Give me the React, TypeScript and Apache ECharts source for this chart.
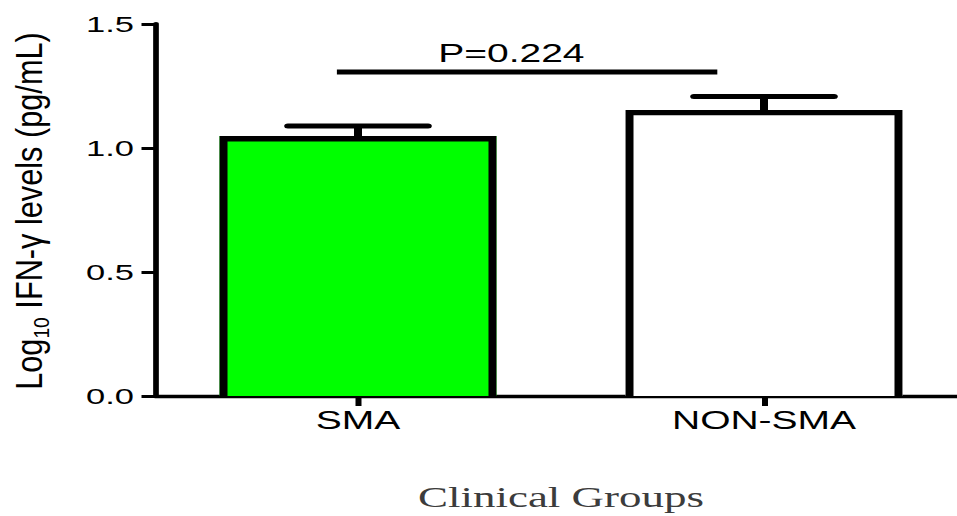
import React, { useEffect, useRef } from "react";
import * as echarts from "echarts";

// ---- data ----
const categories = ["SMA", "NON-SMA"];
const means = [1.048, 1.153];
const sems = [0.041, 0.055];
const barColors = ["#00ff00", "#ffffff"];
const yMin = 0;
const yMax = 1.5;
const yInterval = 0.5;
const pValueLabel = "P=0.224";
const sigPair = [0, 1];
const sigLevel = 1.306;
const yAxisTitle = "{a|Log}{s|10}{a| IFN-γ levels (pg/mL)}";
const xAxisTitle = "Clinical Groups";

// ---- layout (the reference is horizontally stretched) ----
const STRETCH = 1.5;
const FULL_W = 957;
const FULL_H = 516;
const W = FULL_W / STRETCH;
const BAR_FRAC = 0.682;
const OUTLINE = 5.3;

export default function App() {
  const ref = useRef<HTMLDivElement>(null);

  useEffect(() => {
    if (!ref.current) return;
    const chart = echarts.init(ref.current, undefined, { renderer: "svg" });
    const sans = "Liberation Sans, Arial, Helvetica, sans-serif";

    const option: any = {
      animation: false,
      grid: {
        left: 155 / STRETCH,
        right: W - 967 / STRETCH,
        top: 24,
        bottom: FULL_H - 396,
        containLabel: false,
        outerBoundsMode: "none",
      },
      xAxis: {
        type: "category",
        data: categories,
        axisLine: { lineStyle: { color: "#000", width: 3.4 } },
        axisTick: { show: true, alignWithLabel: true, length: 10, lineStyle: { color: "#000", width: 4 } },
        axisLabel: { fontSize: 26, color: "#000", fontFamily: sans, margin: 11 },
        name: xAxisTitle,
        nameLocation: "middle",
        nameGap: 86,
        nameTextStyle: {
          fontFamily: "Liberation Serif, Times New Roman, serif",
          fontSize: 30,
          lineHeight: 30,
          color: "#3c3c3c",
        },
      },
      yAxis: {
        type: "value",
        min: yMin,
        max: yMax,
        interval: yInterval,
        axisLine: { show: true, lineStyle: { color: "#000", width: 3.8 } },
        axisTick: { show: true, length: 9, lineStyle: { color: "#000", width: 3 } },
        axisLabel: {
          fontSize: 23,
          color: "#000",
          fontFamily: sans,
          margin: 14,
          formatter: (v: number) => v.toFixed(1),
        },
        splitLine: { show: false },
      },
      graphic: [
        {
          type: "text",
          x: 20,
          y: 211,
          rotation: Math.PI / 2,
          scaleX: 1.28,
          style: {
            text: yAxisTitle,
            align: "center",
            verticalAlign: "middle",
            fill: "#000",
            rich: {
              a: { fontSize: 24, fontFamily: sans, fill: "#000", lineHeight: 30 },
              s: { fontSize: 15, fontFamily: sans, fill: "#000", verticalAlign: "bottom", lineHeight: 16 },
            },
          },
        },
      ],
      series: [
        {
          type: "bar",
          barWidth: (BAR_FRAC * 100).toFixed(1) + "%",
          data: means.map((v, i) => ({ value: v, itemStyle: { color: barColors[i] } })),
          z: 2,
        },
        {
          // bar outlines: left, top and right sides (the bottom merges with the axis)
          type: "custom",
          z: 3,
          data: means.map((m, i) => [i, m]),
          encode: { x: 0, y: 1 },
          renderItem: (params: any, api: any) => {
            const x = api.value(0);
            const top = api.coord([x, api.value(1)]);
            const base = api.coord([x, 0]);
            const band = api.size([1, 0])[0];
            const half = (band * BAR_FRAC) / 2 - OUTLINE / 2;
            const yt = top[1] + OUTLINE / 2;
            return {
              type: "polyline",
              shape: {
                points: [
                  [top[0] - half, base[1]],
                  [top[0] - half, yt],
                  [top[0] + half, yt],
                  [top[0] + half, base[1]],
                ],
              },
              style: { stroke: "#000", lineWidth: OUTLINE, fill: "none", lineJoin: "miter" },
            };
          },
        },
        {
          // error bars (upper SEM)
          type: "custom",
          z: 3,
          data: means.map((m, i) => [i, m, sems[i]]),
          encode: { x: 0, y: 1 },
          renderItem: (params: any, api: any) => {
            const x = api.value(0);
            const m = api.value(1);
            const e = api.value(2);
            const base = api.coord([x, m]);
            const top = api.coord([x, m + e]);
            const band = api.size([1, 0])[0];
            const half = (band * 0.345) / 2;
            return {
              type: "group",
              children: [
                {
                  type: "line",
                  shape: { x1: base[0], y1: base[1], x2: top[0], y2: top[1] },
                  style: { stroke: "#000", lineWidth: 5.3 },
                },
                {
                  type: "line",
                  shape: { x1: top[0] - half, y1: top[1], x2: top[0] + half, y2: top[1] },
                  style: { stroke: "#000", lineWidth: 5, lineCap: "round" },
                },
              ],
            };
          },
        },
        {
          // significance bar with its P value
          type: "custom",
          z: 3,
          data: [[sigPair[0], sigPair[1], sigLevel]],
          encode: { x: 0, y: 2 },
          renderItem: (params: any, api: any) => {
            const band = api.size([1, 0])[0];
            const p0 = api.coord([api.value(0), api.value(2)]);
            const p1 = api.coord([api.value(1), api.value(2)]);
            const x0 = p0[0] - 0.052 * band;
            const x1 = p1[0] - 0.115 * band;
            return {
              type: "group",
              children: [
                {
                  type: "line",
                  shape: { x1: x0, y1: p0[1], x2: x1, y2: p1[1] },
                  style: { stroke: "#000", lineWidth: 5 },
                },
                {
                  type: "text",
                  x: (x0 + x1) / 2 - 10.5,
                  y: p0[1] - 19.5,
                  style: {
                    text: pValueLabel,
                    align: "center",
                    verticalAlign: "middle",
                    fontSize: 26,
                    fontFamily: sans,
                    fill: "#000",
                  },
                },
              ],
            };
          },
        },
      ],
    };

    chart.setOption(option);
    return () => chart.dispose();
  }, []);

  return (
    <div
      ref={ref}
      style={{
        position: "absolute",
        left: 0,
        top: 0,
        width: W,
        height: FULL_H,
        transform: `scaleX(${STRETCH})`,
        transformOrigin: "0 0",
      }}
    />
  );
}
